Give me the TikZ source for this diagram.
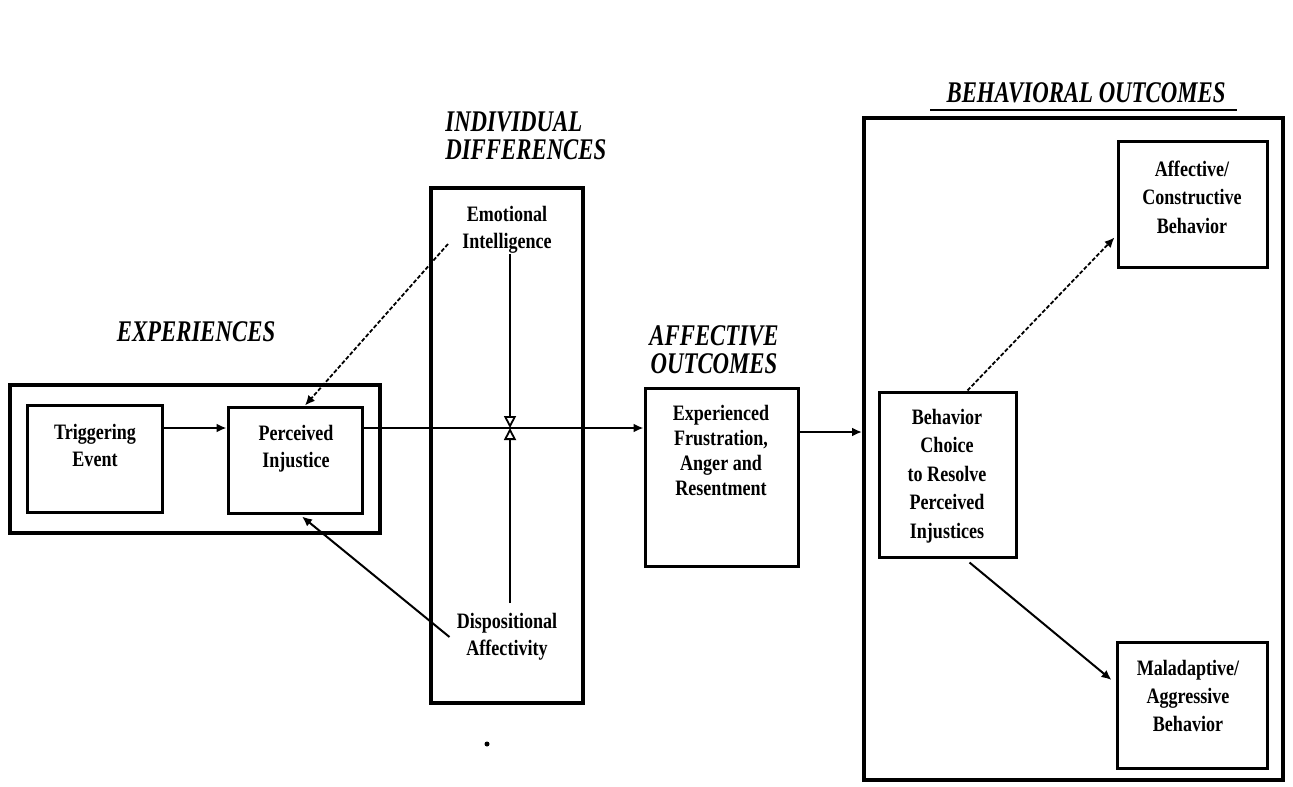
\documentclass[tikz,border=0pt]{standalone}
\usepackage{fontspec}
\setmainfont{Liberation Serif}
\newfontfamily\boxfont[FakeStretch=0.82]{Liberation Serif}
\newfontfamily\headfont[FakeStretch=0.76]{Liberation Serif}
\usetikzlibrary{arrows.meta,calc}
\begin{document}
\begin{tikzpicture}[x=0.5pt,y=-0.5pt,
  sz/.style 2 args={minimum width=#1*0.5pt, minimum height=#2*0.5pt},
  bx/.style={draw, line width=1.5pt, inner sep=0pt},
  outerbx/.style={draw, line width=2pt, inner sep=0pt},
  bt/.style={font=\boxfont\bfseries\fontsize{11}{13.5}\selectfont, align=center, inner sep=0pt},
  btr/.style={font=\boxfont\bfseries\fontsize{11}{14.2}\selectfont, align=center, inner sep=0pt},
  head/.style={font=\headfont\bfseries\itshape\fontsize{15}{14}\selectfont, inner sep=0pt},
  arr/.style={line width=1pt, -{Latex[length=5pt,width=4.5pt]}},
  dasharr/.style={line width=0.9pt, dash pattern=on 2pt off 1pt, -{Latex[length=5pt,width=4.5pt]}},
  modarr/.style={line width=1pt, -{Triangle[open,length=6pt,width=6pt,line width=0.9pt]}}
]
\useasboundingbox[fill=white] (0,0) rectangle (1293,786);

% headings
\node[head] (hexp) at (196,332) {EXPERIENCES};
\node[head, align=left, anchor=west] (hind) at (445,136) {INDIVIDUAL\\DIFFERENCES};
\node[head, align=center] (haff) at (714,350) {AFFECTIVE\\OUTCOMES};
\node[head] (hbeh) at (1086,93) {BEHAVIORAL OUTCOMES};
\coordinate (ulL) at (930,110);
\coordinate (ulR) at (1237,110);
\draw[line width=1.3pt] (ulL) -- (ulR);

% outer frames
\node[outerbx, sz={370}{148}] (expb) at (195,459) {};
\node[outerbx, sz={152}{515}] (idb) at (507,445.5) {};
\node[outerbx, sz={419}{662}] (beh) at (1073.5,449) {};

% boxes
\node[bx, sz={135}{107}] (trig) at (94.5,458.5) {};
\node[bt] (trigt) at (95,445) {Triggering\\Event};
\node[bx, sz={134}{106}] (perc) at (295,460) {};
\node[bt] (perct) at (296,449) {Perceived\\Injustice};
\node[bt] (eit) at (507,230) {Emotional\\Intelligence};
\node[bt] (dispt) at (507,637) {Dispositional\\Affectivity};
\node[bx, sz={153}{178}] (exp) at (721.5,477) {};
\node[bt, font=\boxfont\bfseries\fontsize{11}{12.5}\selectfont] (expt) at (721,450) {Experienced\\Frustration,\\Anger and\\Resentment};
\node[bx, sz={137}{165}] (choice) at (947.5,474.5) {};
\node[btr] (choicet) at (947,476) {Behavior\\Choice\\to Resolve\\Perceived\\Injustices};
\node[bx, sz={149}{125}] (aff) at (1192.5,204.5) {};
\node[btr] (afft) at (1192,197) {Affective/\\Constructive\\Behavior};
\node[bx, sz={150}{126}] (mal) at (1192,705) {};
\node[btr] (malt) at (1188,696) {Maladaptive/\\Aggressive\\Behavior};

% connectors
\coordinate (my) at (0,428);
\coordinate (ay) at (0,432);
\coordinate (vmid) at (510,428);
\coordinate (eiL) at (448,244);
\draw[arr] (trig.east |- my) -- (perc.west |- my);
\draw[arr] (perc.east |- my) -- (exp.west |- my);
\draw[arr] (exp.east |- ay) -- (beh.west |- ay);
\draw[modarr] (eit.south -| vmid) -- (vmid);
\draw[modarr] ($(dispt.north -| vmid)+(0,-10)$) -- (vmid);
\draw[dasharr] (eiL) -- ($(perc.north)+(10,0)$);
\draw[arr] ($(dispt.west)+(-7,0)$) -- ($(perc.south)+(7,2)$);
\draw[dasharr] ($(choice.north)+(20,0)$) -- ($(aff.west)+(-2,33)$);
\draw[arr] ($(choice.south)+(22,4)$) -- ($(mal.west)+(-4,-25)$);

% stray dot
\fill (487,744) circle (2.5);
\end{tikzpicture}
\end{document}
